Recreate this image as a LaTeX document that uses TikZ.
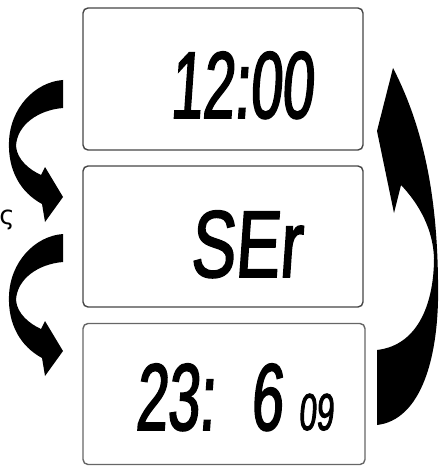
\documentclass[tikz,border=0pt]{standalone}
\usepackage{fontspec}
\newfontfamily\lcdfont[FakeSlant=0.07,FakeStretch=0.6,FakeBold=1.8]{Liberation Sans}
\newfontfamily\lcdwide[FakeSlant=0.07,FakeStretch=0.7,FakeBold=1.8]{Liberation Sans}
\newfontfamily\greekfont{DejaVu Sans}
\usetikzlibrary{positioning}

\begin{document}
\begin{tikzpicture}[
          x=1pt, y=-1pt,
          panel/.style={draw=gray!55!black, line width=1.4pt, rounded corners=5pt, fill=white},
          lcd/.style={inner sep=0pt, anchor=base west, font=\lcdfont\fontsize{95}{95}\selectfont},
          fatarrow/.style={fill=black, draw=none}
        ]
        \useasboundingbox (0,0) rectangle (440,468);

        % Panels
        \node[panel, minimum width=280pt, minimum height=142pt] (P1) at (223,79) {};
        \node[panel, minimum width=280pt, minimum height=141pt] (P2) at (223,236.5) {};
        \node[panel, draw=gray!80!black, minimum width=282pt, minimum height=141pt] (P3) at (224,394) {};

        % Readings
        \node[lcd] (T1) at (170,118) {12:00};
        \node[lcd, font=\lcdwide\fontsize{95}{95}\selectfont] (T2) at (190,277) {SEr};
        \node[lcd] (T3) at (135,430) {23:\hspace{36pt}6};
        \node[lcd, font=\lcdfont\fontsize{52}{52}\selectfont, right=16pt of T3.base east, anchor=base west] (T4) {09};

        % Side mark
        \node[inner sep=0pt, font=\greekfont\fontsize{26}{26}\selectfont] (G) at (7,220) {ς};

        % Arrows on the left
        \foreach \dy in {0,154} {
          \fill[fatarrow, shift={(0,\dy)}] (63,80) -- (63,108)
            .. controls (38,110) and (17,125) .. (16,146)
            .. controls (17,160) and (30,170) .. (41,175)
            -- (45,167) -- (63,197) -- (45,222) -- (42,204)
            .. controls (20,192) and (8,170) .. (9,142)
            .. controls (10,108) and (35,82) .. (63,80) -- cycle;
        }

        % Arrow back up on the right
        \fill[fatarrow] (393,68) -- (377,131) -- (394,213) -- (401,185)
          .. controls (420,205) and (433,230) .. (434,258)
          .. controls (434,300) and (420,345) .. (377,350)
          -- (377,425)
          .. controls (420,420) and (440,360) .. (438,280)
          .. controls (437,200) and (425,130) .. (393,68) -- cycle;

      \end{tikzpicture}
\end{document}
